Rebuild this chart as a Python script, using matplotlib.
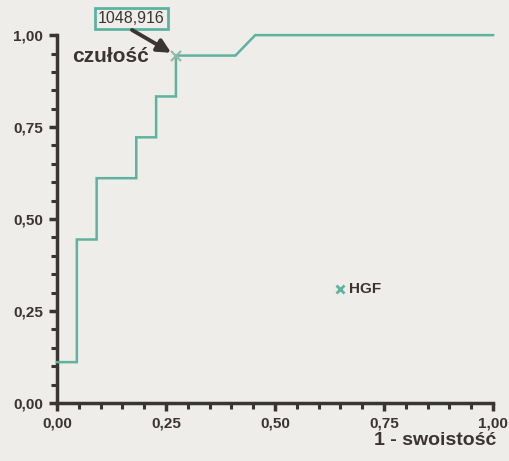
import matplotlib
matplotlib.use("Agg")
import matplotlib.pyplot as plt
from matplotlib.ticker import MultipleLocator, FuncFormatter

# ROC curve (1 - specificity, sensitivity)
fpr = [0.0, 1/22, 1/22, 2/22, 2/22, 4/22, 4/22, 5/22, 5/22, 6/22, 6/22, 9/22, 10/22, 1.0]
tpr = [2/18, 2/18, 8/18, 8/18, 11/18, 11/18, 13/18, 13/18, 15/18, 15/18, 17/18, 17/18, 1.0, 1.0]
cutoff_point = (6/22, 17/18)
cutoff_label = "1048,916"
series_name = "HGF"

LINE = "#5db3a0"
DARK = "#3b3432"
BG = "#eeede9"

plt.rcParams["font.family"] = ["Liberation Sans", "DejaVu Sans"]

fig = plt.figure(figsize=(5.1, 4.61), dpi=100, facecolor=BG)
ax = fig.add_axes([0.1118, 0.1258, 0.855, 0.798])
ax.set_facecolor(BG)

ax.plot(fpr, tpr, color=LINE, lw=1.8, solid_joinstyle="miter", clip_on=False, zorder=3)
ax.plot(*cutoff_point, marker="x", ms=7, mew=1.5, color="#8fb8a8", zorder=4, clip_on=False)

ax.set_xlim(0, 1)
ax.set_ylim(0, 1)
for s in ["top", "right"]:
    ax.spines[s].set_visible(False)
for s in ["left", "bottom"]:
    ax.spines[s].set_color(DARK)
    ax.spines[s].set_linewidth(2.5)

fmt = FuncFormatter(lambda v, p: f"{v:.2f}".replace(".", ","))
for axis in (ax.xaxis, ax.yaxis):
    axis.set_major_locator(MultipleLocator(0.25))
    axis.set_minor_locator(MultipleLocator(0.05))
    axis.set_major_formatter(fmt)
ax.tick_params(which="major", length=6, width=2.5, color=DARK, labelsize=11,
               labelcolor=DARK, pad=4)
ax.tick_params(which="minor", length=4, width=2.2, color=DARK)
for lab in ax.get_xticklabels() + ax.get_yticklabels():
    lab.set_fontweight("bold")

ax.text(0.216, 0.878, "czułość", transform=fig.transFigure, fontsize=15,
        fontweight="bold", color=DARK, ha="center", va="center")
ax.text(0.973, 0.044, "1 - swoistość", transform=fig.transFigure, fontsize=14,
        fontweight="bold", color=DARK, ha="right", va="center")

# cutoff annotation box
ax.text(0.17, 1.046, cutoff_label, fontsize=11.5, color=DARK, ha="center",
        va="center", clip_on=False,
        bbox=dict(boxstyle="square,pad=0.2", fc=BG, ec=LINE, lw=2))
ax.annotate("", xy=cutoff_point, xytext=(0.172, 1.014),
            arrowprops=dict(arrowstyle="-|>,head_length=0.8,head_width=0.4",
                            color=DARK, lw=2.8, shrinkA=0, shrinkB=4),
            annotation_clip=False)

# legend
ax.plot(0.65, 0.31, marker="x", ms=6, mew=2, color=LINE)
ax.text(0.67, 0.31, series_name, fontsize=11, fontweight="bold", color=DARK,
        va="center", ha="left")

fig.savefig("out.png", dpi=100, facecolor=BG)
